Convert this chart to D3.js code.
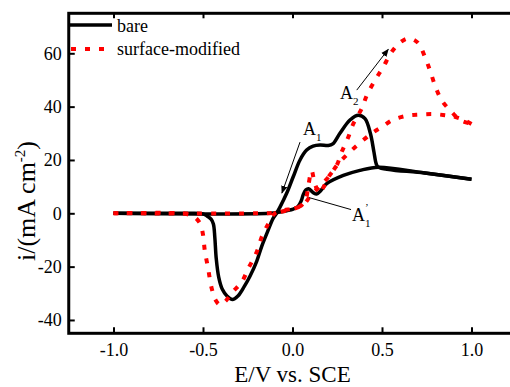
<!DOCTYPE html>
<html>
<head>
<meta charset="utf-8">
<script src="https://cdn.jsdelivr.net/npm/d3@7"></script>
<style>
body { margin: 0; background: #fff; }
svg text { font-family: "Liberation Serif", "Times New Roman", serif; fill: #000; }
</style>
</head>
<body>
<svg id="chart" width="510" height="387"></svg>
<script>
// potential (V vs SCE) and current density (mA cm-2)
var bareFwdE = [-1.0, -0.6, -0.5, -0.478, -0.455, -0.442, -0.434, -0.426, -0.412, -0.392, -0.366, -0.335, -0.305, -0.27, -0.237, -0.2, -0.17, -0.137, -0.109, -0.087, -0.07, -0.032, 0.004, 0.042, 0.079, 0.115, 0.154, 0.2, 0.225, 0.265, 0.321, 0.368, 0.405, 0.435, 0.455, 0.468, 0.48, 0.74, 1.0];
var bareFwdI = [0, 0, -0.2, -1.0, -2.2, -4.0, -9, -17, -24, -28.5, -31, -32.3, -31, -27.5, -23.5, -18, -12, -6.5, -2, 0.2, 2.3, 7.6, 13.7, 20, 23.7, 25.2, 25.6, 25.4, 26, 30, 35, 36.8, 35.5, 30, 23, 18.5, 17.3, 15.1, 12.8];
var bareRevE = [1.0, 0.74, 0.48, 0.377, 0.284, 0.191, 0.155, 0.135, 0.115, 0.09, 0.075, 0.06, 0.05, 0.031, 0.004, -0.07, -0.13, -1.0];
var bareRevI = [12.8, 15.1, 17.3, 16.1, 14.2, 11.1, 8.3, 7.2, 7.8, 9.2, 8.8, 7.0, 4.9, 2.6, 1.6, 0.5, 0, 0];

var modFwdE = [-1.0, -0.62, -0.58, -0.545, -0.515, -0.5, -0.49, -0.472, -0.452, -0.43, -0.405, -0.375, -0.335, -0.284, -0.247, -0.2, -0.172, -0.135, -0.098, -0.05, 0.0, 0.05, 0.075, 0.09, 0.107, 0.125, 0.152, 0.175, 0.2, 0.247, 0.275, 0.312, 0.34, 0.387, 0.415, 0.461, 0.507, 0.554, 0.6, 0.65, 0.7, 0.74, 0.768, 0.796, 0.833, 0.889, 0.936, 1.0];
var modFwdI = [0, 0, -0.5, -1.5, -4, -8, -14, -20.5, -28, -32.5, -34.3, -33, -29.5, -25.8, -20.7, -14.5, -8.9, -3.9, 0, 1.1, 1.8, 3, 5.5, 11, 16, 11, 7.5, 10, 13.5, 18, 23, 28.6, 33.6, 39.3, 44.2, 49.9, 54.9, 60.5, 64, 65.6, 64, 58.6, 53.6, 48, 42.4, 38, 35, 33.5];
var modRevE = [1.0, 0.95, 0.9, 0.84, 0.78, 0.71, 0.64, 0.56, 0.5, 0.45, 0.405, 0.33, 0.256, 0.2, 0.15, 0.1, 0.06, 0.0, -0.1, -0.2, -1.0];
var modRevI = [33.5, 35.2, 36.3, 36.9, 37.2, 37, 36.6, 35, 32.4, 30.3, 28, 23.6, 18.6, 13.5, 10, 6.5, 3.2, 1.6, 0.2, 0, 0];

var xTicks = [-1.0, -0.5, 0.0, 0.5, 1.0];
var yTicks = [-40, -20, 0, 20, 40, 60];
var seriesNames = ['bare', 'surface-modified'];

// annotation anchors in data units
var arrowA1 = [[0.042, 26.7], [-0.059, 7.6]];
var arrowA2 = [[0.359, 46.2], [0.535, 61.5]];
var leaderA1p = [[0.092, 5.9], [0.327, 1.4]];
var labelA1 = [0.059, 29.4];
var labelA2 = [0.265, 42.8];
var labelA1p = [0.332, -2.9];

var FONT = '"Liberation Serif", "Times New Roman", serif';
var svg = d3.select('#chart');

var x = d3.scaleLinear().domain([-1.25, 1.25]).range([68.75, 516.25]);
var y = d3.scaleLinear().domain([-45, 75]).range([333.3, 13.3]);

function zip(a, b) {
	return a.map(function(d, i) { return [d, b[i]]; });
}
// plain hyphen instead of the unicode minus
function fmt(p) {
	return function(d) { return d.toFixed(p).replace('\u2212', '-'); };
}

var line = d3.line()
	.x(function(d) { return x(d[0]); })
	.y(function(d) { return y(d[1]); })
	.curve(d3.curveCatmullRom.alpha(0.5));

var minorX = d3.range(-12, 13).map(function(d) { return d / 10; });
var minorY = d3.range(-44, 76, 4);

// bottom axis
var gx = svg.append('g').attr('transform', 'translate(0,' + y(-45) + ')');
gx.call(d3.axisBottom(x).tickValues(minorX).tickSize(-3).tickFormat(''));
gx.call(d3.axisBottom(x).tickValues(xTicks).tickSize(-6).tickPadding(10).tickFormat(fmt(1)));
// top mirror
var gt = svg.append('g').attr('transform', 'translate(0,' + y(75) + ')');
gt.call(d3.axisTop(x).tickValues(minorX).tickSize(-3).tickFormat(''));
gt.call(d3.axisTop(x).tickValues(xTicks).tickSize(-5).tickFormat(''));
// left axis
var gy = svg.append('g').attr('transform', 'translate(' + x(-1.25) + ',0)');
gy.call(d3.axisLeft(y).tickValues(minorY).tickSize(-3).tickFormat(''));
gy.call(d3.axisLeft(y).tickValues(yTicks).tickSize(-6).tickPadding(7).tickFormat(fmt(0)));

svg.selectAll('g').attr('font-family', FONT).attr('font-size', 18);
svg.selectAll('.domain').remove();
svg.selectAll('.tick line').attr('stroke', '#000').attr('stroke-width', 2);
svg.selectAll('.tick text')
	.style('font-family', FONT)
	.style('font-size', '18px')
	.attr('fill', '#000');

svg.append('rect')
	.attr('x', x(-1.25)).attr('y', y(75))
	.attr('width', x(1.25) - x(-1.25)).attr('height', y(-45) - y(75))
	.attr('fill', 'none').attr('stroke', '#000').attr('stroke-width', 3);

// curves
[zip(bareFwdE, bareFwdI), zip(bareRevE, bareRevI)].forEach(function(pts) {
	svg.append('path').attr('d', line(pts))
		.attr('fill', 'none').attr('stroke', '#000')
		.attr('stroke-width', 3.5).attr('stroke-linejoin', 'round');
});
[zip(modFwdE, modFwdI), zip(modRevE, modRevI)].forEach(function(pts) {
	svg.append('path').attr('d', line(pts))
		.attr('fill', 'none').attr('stroke', '#ff0000')
		.attr('stroke-width', 4).attr('stroke-dasharray', '5,9');
});

// arrows
svg.append('defs').append('marker')
	.attr('id', 'head').attr('viewBox', '0 0 10 10')
	.attr('refX', 9).attr('refY', 5)
	.attr('markerWidth', 8).attr('markerHeight', 8)
	.attr('markerUnits', 'userSpaceOnUse')
	.attr('orient', 'auto')
	.append('path').attr('d', 'M0,1 L10,5 L0,9 Z').attr('fill', '#000');

[arrowA1, arrowA2].forEach(function(a) {
	svg.append('line')
		.attr('x1', x(a[0][0])).attr('y1', y(a[0][1]))
		.attr('x2', x(a[1][0])).attr('y2', y(a[1][1]))
		.attr('stroke', '#000').attr('stroke-width', 1)
		.attr('marker-end', 'url(#head)');
});
svg.append('line')
	.attr('x1', x(leaderA1p[0][0])).attr('y1', y(leaderA1p[0][1]))
	.attr('x2', x(leaderA1p[1][0])).attr('y2', y(leaderA1p[1][1]))
	.attr('stroke', '#000').attr('stroke-width', 1);

function peakLabel(pos, sub, prime) {
	var t = svg.append('text')
		.attr('x', x(pos[0])).attr('y', y(pos[1]))
		.style('font-family', FONT)
		.style('font-size', '18px');
	t.append('tspan').text('A');
	t.append('tspan').attr('dy', 6).style('font-size', '11px').text(sub);
	if (prime) {
		svg.append('text')
			.attr('x', x(pos[0]) + 13).attr('y', y(pos[1]) - 10)
			.style('font-family', FONT)
			.style('font-size', '11px').text('\u2019');
	}
}
peakLabel(labelA1, '1', false);
peakLabel(labelA2, '2', false);
peakLabel(labelA1p, '1', true);

// legend
svg.append('line').attr('x1', 70).attr('x2', 112).attr('y1', 25).attr('y2', 25)
	.attr('stroke', '#000').attr('stroke-width', 3.5);
svg.append('line').attr('x1', 71).attr('x2', 108).attr('y1', 49).attr('y2', 49)
	.attr('stroke', '#ff0000').attr('stroke-width', 4).attr('stroke-dasharray', '5,9');
svg.selectAll('.legend-label')
	.data(seriesNames)
	.enter()
	.append('text')
	.attr('class', 'legend-label')
	.attr('x', 117)
	.attr('y', function(d, i) { return 32 + i * 23; })
	.style('font-family', FONT)
	.style('font-size', '18px')
	.text(function(d) { return d; });

// axis titles
svg.append('text')
	.attr('x', 292.5).attr('y', 382)
	.attr('text-anchor', 'middle')
	.style('font-family', FONT)
	.style('font-size', '23px')
	.text('E/V vs. SCE');

var yt = svg.append('text')
	.attr('transform', 'translate(35,201) rotate(-90)')
	.attr('text-anchor', 'middle')
	.style('font-family', FONT)
	.style('font-size', '26px');
yt.append('tspan').text('i/(mA cm');
yt.append('tspan').attr('dy', -10).style('font-size', '15px').text('-2');
yt.append('tspan').attr('dy', 10).text(')');
</script>
</body>
</html>
